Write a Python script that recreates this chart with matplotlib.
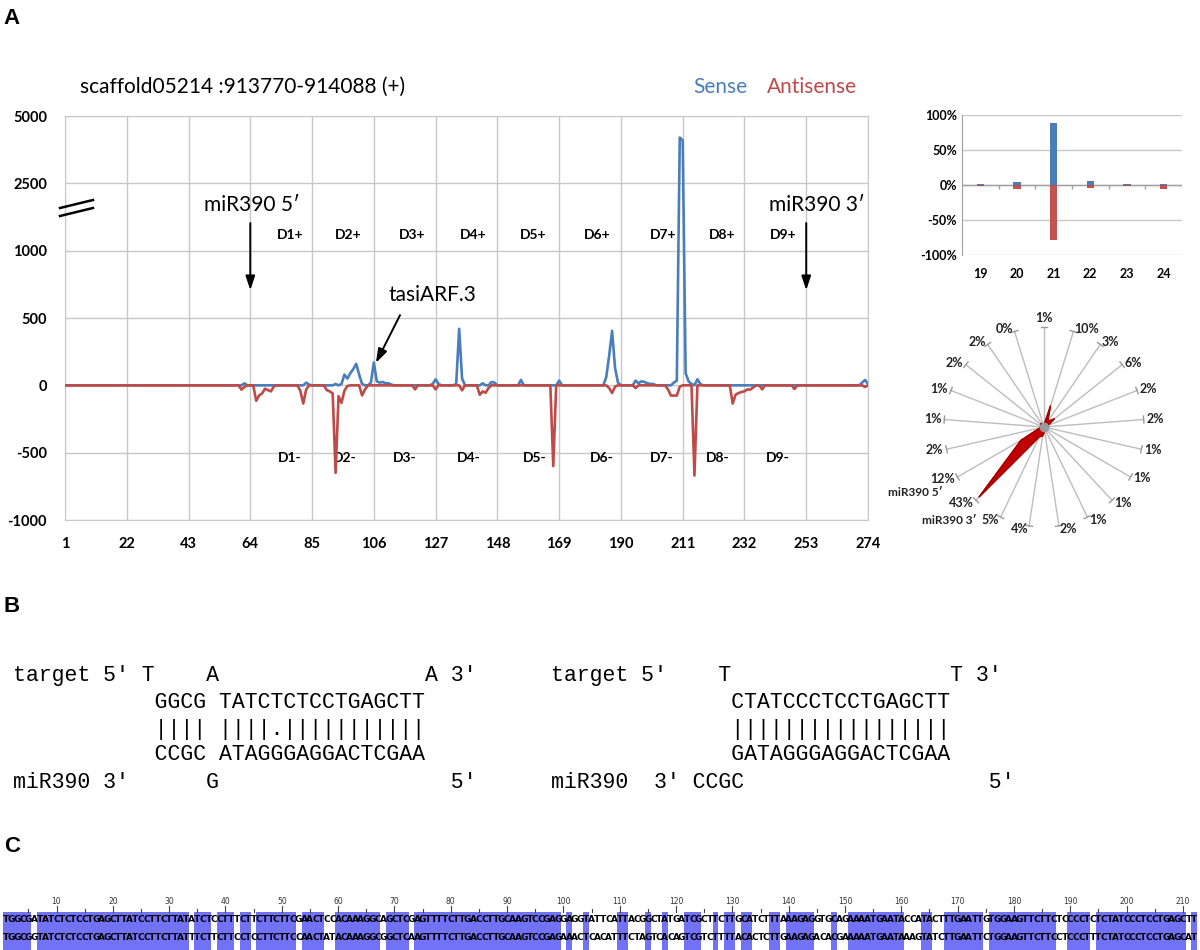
import matplotlib
matplotlib.use('Agg')
import matplotlib.pyplot as plt
import matplotlib.transforms as mtransforms
from matplotlib.lines import Line2D
import numpy as np

plt.rcParams['font.family'] = ['Lato', 'DejaVu Sans']

W, H = 1200, 950


def fx(px):
    return px / W


def fy(py):
    return 1 - py / H


# ---------------- panel A : read coverage along the locus ----------------
positions = np.arange(1, 275)
x_ticks = [1, 22, 43, 64, 85, 106, 127, 148, 169, 190, 211, 232, 253, 274]
y_tick_vals = [-1000, -500, 0, 500, 1000, 2500, 5000]
y_tick_labels = ['-1000', '-500', '0', '500', '1000', '2500', '5000']

# only the non-zero positions, everything else sits on 0
sense_pos = [62, 83, 84, 93, 95, 96, 97, 98, 99, 100, 101, 102, 105, 106, 107, 108,
             109, 110, 111, 112, 126, 127, 128, 134, 135, 136, 143, 146, 147, 156,
             169, 185, 186, 187, 188, 189, 195, 196, 197, 198, 199, 200, 201, 208,
             209, 210, 211, 212, 213, 214, 216, 217, 272, 273, 274]
sense_val = [15, 20, 5, 10, 10, 80, 50, 90, 120, 160, 80, 10, 20, 170, 30, 20,
             25, 15, 15, 5, 10, 45, 10, 10, 420, 50, 15, 25, 20, 40,
             35, 60, 220, 405, 130, 20, 35, 15, 30, 25, 15, 10, 10, 20,
             35, 4200, 4100, 90, 30, 10, 45, 10, 20, 40, 10]

anti_pos = [61, 62, 66, 67, 68, 69, 70, 71, 72, 81, 82, 83, 90, 91, 92, 93, 94,
            95, 96, 97, 102, 103, 120, 127, 136, 142, 143, 144, 145, 167, 186,
            187, 188, 195, 206, 207, 208, 209, 210, 215, 228, 229, 230, 231, 232,
            233, 234, 235, 238, 249, 273]
anti_val = [-32, -12, -115, -75, -60, -25, -35, -45, -8, -40, -135, -30, -35, -45,
            -60, -650, -80, -130, -40, -5, -75, -30, -30, -30, -37, -70, -45,
            -55, -20, -600, -20, -57, -10, -20, -30, -76, -76, -76, -10, -670,
            -135, -69, -57, -50, -44, -30, -32, -15, -30, -27, -12]

sense = np.zeros(len(positions))
sense[np.array(sense_pos) - 1] = sense_val
antisense = np.zeros(len(positions))
antisense[np.array(anti_pos) - 1] = anti_val

plus_labels = ['D1+', 'D2+', 'D3+', 'D4+', 'D5+', 'D6+', 'D7+', 'D8+', 'D9+']
minus_labels = ['D1-', 'D2-', 'D3-', 'D4-', 'D5-', 'D6-', 'D7-', 'D8-', 'D9-']
plus_x = [77.5, 97.2, 119.0, 139.7, 160.1, 181.9, 204.3, 224.4, 245.1]
minus_x = [77.5, 96.2, 116.6, 138.4, 160.8, 183.6, 204.0, 223.0, 243.4]

# size classes (nt) and strand fractions
size_classes = ['19', '20', '21', '22', '23', '24']
sense_pct = [1, 4, 88, 6, 1, 1]
anti_pct = [-1, -5, -78, -4, -1, -6]

# phasing register percentages, clockwise from the top
phase_pct = [1, 10, 3, 6, 2, 2, 1, 1, 1, 1, 2, 4, 5, 43, 12, 2, 1, 1, 2, 2, 0]

# ---------------- panel B : alignments ----------------
left_lines = ["target 5' T    A                A 3'",
              "           GGCG TATCTCTCCTGAGCTT",
              "           |||| ||||.|||||||||||",
              "           CCGC ATAGGGAGGACTCGAA",
              "miR390 3'      G                  5'"]
right_lines = ["target 5'    T                 T 3'",
               "              CTATCCCTCCTGAGCTT",
               "              |||||||||||||||||",
               "              GATAGGGAGGACTCGAA",
               "miR390  3' CCGC                   5'"]

# ---------------- panel C : sequence comparison ----------------
seq_top = ("TGGCGATATCTCTCCTGAGCTTATCCTTCTTATATCTCCTTTCTTCTTCTTCGAACTCCA"
           "CAAAGGCAGCTCGAGTTTTCTTGACCTTGCAAGTCCGAGGAGGTATTCATTACGGCTATG"
           "ATCGCTTCTTGCATCTTTAAAGAGGTGCAGAAAATGAATACCATACTTTGAATTGTGGAA"
           "GTTCTTCTCCCCTCTCTATCCCTCCTGAGCTT")
seq_bot = ("TGGCGGTATCTCTCCTGAGCTTATCCTTCTTATTTCTTCTTCCTCCTTCTTCCAACTATA"
           "CAAAGGCGGCTCAAGTTTTCTTGACCTTGCAAGTCCGAGAAACTCACATTTCTAGTCACA"
           "GTCGTCTTTTACACTCTTGAAGAGACACGAAAAATGAATAAAGTATCTTGAATTCTGGAA"
           "GTTCTTCCTCCCTTTCTATCCCTCCTGAGCAT")

blue = '#4A7EBB'
red = '#BE4B48'
grid_c = '#C8C8C8'

fig = plt.figure(figsize=(12, 9.5), dpi=100)

# panel letters
for lbl, py in [('A', 18), ('B', 606), ('C', 847)]:
    fig.text(fx(12), fy(py), lbl, fontsize=16, fontweight='bold',
             family=['Liberation Sans', 'DejaVu Sans'], ha='center', va='center')

# ---- main coverage chart ----
ax = fig.add_axes([fx(65), fy(520), (868 - 65) / W, (520 - 116) / H])
y_tick_pos = [-2, -1, 0, 1, 2, 3, 4]


def fwd(v):
    return np.interp(v, y_tick_vals, y_tick_pos)


def inv(p):
    return np.interp(p, y_tick_pos, y_tick_vals)


ax.set_yscale('function', functions=(fwd, inv))
ax.plot(positions, sense, color=blue, lw=1.9, zorder=3)
ax.plot(positions, antisense, color=red, lw=1.9, zorder=4)
ax.set_xlim(1, 274)
ax.set_ylim(-1000, 5000)
ax.set_xticks(x_ticks)
ax.set_xticklabels([str(t) for t in x_ticks])
ax.set_yticks(y_tick_vals)
ax.set_yticklabels(y_tick_labels)
ax.yaxis.set_minor_locator(matplotlib.ticker.NullLocator())
ax.tick_params(length=0, labelsize=10.5)
ax.tick_params(axis='y', pad=13)
ax.tick_params(axis='x', pad=12)
for t in ax.get_xticklabels() + ax.get_yticklabels():
    t.set_fontweight('bold')
ax.grid(True, color=grid_c, lw=1)
for s in ax.spines.values():
    s.set_color(grid_c)

trans = mtransforms.blended_transform_factory(ax.transData, ax.transAxes)
for lbl, xp in zip(plus_labels, plus_x):
    ax.text(xp, 0.705, lbl, transform=trans, ha='center', va='center',
            fontsize=10, fontweight='bold')
for lbl, xp in zip(minus_labels, minus_x):
    ax.text(xp, 0.153, lbl, transform=trans, ha='center', va='center',
            fontsize=10, fontweight='bold')

arrow = dict(arrowstyle='-|>,head_width=0.2,head_length=0.6', color='black',
             lw=1.4, shrinkA=0, shrinkB=0, mutation_scale=14)
ax.text(64.6, 0.78, 'miR390 5\u2032', transform=trans, ha='center', va='center', fontsize=15)
ax.annotate('', xy=(64, 0.569), xytext=(64, 0.735), xycoords=trans, textcoords=trans,
            arrowprops=arrow)
ax.text(256.5, 0.78, 'miR390 3\u2032', transform=trans, ha='center', va='center', fontsize=15)
ax.annotate('', xy=(253, 0.569), xytext=(253, 0.735), xycoords=trans, textcoords=trans,
            arrowprops=arrow)
ax.text(125.8, 0.557, 'tasiARF.3', transform=trans, ha='center', va='center', fontsize=15)
ax.annotate('', xy=(106.7, 0.389), xytext=(114.9, 0.507), xycoords=trans, textcoords=trans,
            arrowprops=arrow)

fig.text(fx(80), fy(87), 'scaffold05214 :913770-914088 (+)', fontsize=15, va='center')
fig.text(fx(693), fy(87), 'Sense', fontsize=15, color=blue, va='center')
fig.text(fx(767), fy(87), 'Antisense', fontsize=15, color=red, va='center')

# axis break mark
fig.add_artist(Line2D([fx(60), fx(93)], [fy(208), fy(200)], color='black', lw=1.8))
fig.add_artist(Line2D([fx(60), fx(93)], [fy(216), fy(208)], color='black', lw=1.8))

# ---- size class bars ----
ax2 = fig.add_axes([fx(962), fy(255), 220 / W, 140 / H])
xs = np.arange(len(size_classes))
ax2.bar(xs, sense_pct, width=0.2, color=blue, zorder=3)
ax2.bar(xs, anti_pct, width=0.2, color=red, zorder=3, alpha=0.95)
ax2.set_xlim(-0.5, 5.5)
ax2.set_ylim(-100, 100)
ax2.set_yticks([-100, -50, 0, 50, 100])
ax2.set_yticklabels(['-100%', '-50%', '0%', '50%', '100%'])
ax2.set_xticks(xs)
ax2.set_xticklabels(size_classes)
ax2.tick_params(length=0, labelsize=9)
ax2.tick_params(axis='x', pad=9)
for t in ax2.get_xticklabels() + ax2.get_yticklabels():
    t.set_fontweight('bold')
ax2.grid(True, axis='y', color=grid_c, lw=1, zorder=0)
for k in ['top', 'right', 'bottom']:
    ax2.spines[k].set_visible(False)
ax2.spines['left'].set_color('#A0A0A0')
ax2.axhline(0, color='#A0A0A0', lw=1, zorder=2)
ax2.vlines(xs + 0.5, -5.5, 0, color='#A0A0A0', lw=1, zorder=2)

# ---- phasing radar ----
ax3 = fig.add_axes([fx(944), fy(527), 200 / W, 200 / H], projection='polar')
ax3.set_theta_zero_location('N')
ax3.set_theta_direction(-1)
ax3.axis('off')
rmax = 45
n = len(phase_pct)
thetas = np.arange(n) * 2 * np.pi / n
for th in thetas:
    ax3.plot([th, th], [0, rmax], color='#BDBDBD', lw=1, zorder=1, clip_on=False)
    ax3.plot([th - 0.035, th + 0.035], [rmax, rmax], color='#9A9A9A', lw=1,
             zorder=1, clip_on=False)
th_closed = np.append(thetas, thetas[0])
pct_closed = np.append(phase_pct, phase_pct[0])
ax3.fill(th_closed, pct_closed, color='#C00000', zorder=3)
ax3.plot(th_closed, pct_closed, color='#9E0000', lw=0.8, zorder=4)
ax3.plot([0], [0], 'o', color='#9A9A9A', ms=6, zorder=5)
ax3.set_ylim(0, rmax)
for th, p in zip(thetas, phase_pct):
    sx = np.sin(th)
    cy = np.cos(th)
    ha = 'left' if sx > 0.05 else ('right' if sx < -0.05 else 'center')
    va = 'bottom' if cy > 0.97 else 'center'
    ax3.text(th, rmax * 1.03, '%d%%' % p, ha=ha, va=va, fontsize=9,
             fontweight='bold', color='#222222')
fig.text(fx(943), fy(493), 'miR390 5\u2032', ha='right', va='center', fontsize=8.5,
         fontweight='bold', color='#222222')
fig.text(fx(977), fy(520), 'miR390 3\u2032', ha='right', va='center', fontsize=8.5,
         fontweight='bold', color='#222222')

# ---- panel B alignments ----
row_y = [676, 703, 730, 755, 783]
for line, py in zip(left_lines, row_y):
    fig.text(fx(13), fy(py), line, family=['Liberation Mono', 'DejaVu Sans Mono'],
             fontsize=15.5, va='center', ha='left')
for line, py in zip(right_lines, row_y):
    fig.text(fx(551), fy(py), line, family=['Liberation Mono', 'DejaVu Sans Mono'],
             fontsize=15.5, va='center', ha='left')

# ---- panel C sequence comparison ----
axc = fig.add_axes([fx(3), 0, (1197 - 3) / W, fy(890)])
axc.set_xlim(0, 212)
axc.set_ylim(950, 890)
axc.axis('off')
match = [a == b for a, b in zip(seq_top, seq_bot)]
runs = []
i = 0
while i < len(match):
    if match[i]:
        j = i
        while j < len(match) and match[j]:
            j += 1
        runs.append((i, j - i))
        i = j
    else:
        i += 1
axc.broken_barh(runs, (912, 40), facecolors='#7272F6')
seq_font = ['Liberation Sans Narrow', 'DejaVu Sans']
for k, (a, b) in enumerate(zip(seq_top, seq_bot)):
    axc.text(k + 0.5, 920, a, ha='center', va='center', fontsize=6.5,
             fontweight='bold', family=seq_font, clip_on=True)
    axc.text(k + 0.5, 938, b, ha='center', va='center', fontsize=6.5,
             fontweight='bold', family=seq_font, clip_on=True)
for nmark in range(5, 215, 5):
    xm = nmark - 0.5
    if nmark % 10 == 0:
        axc.plot([xm, xm], [906, 912], color='#444444', lw=0.8)
        axc.text(xm, 902, str(nmark), ha='center', va='center', fontsize=5.5,
                 family=seq_font, color='#333333')
    else:
        axc.plot([xm, xm], [909, 912], color='#444444', lw=0.8)

fig.savefig('out.png', dpi=100)
